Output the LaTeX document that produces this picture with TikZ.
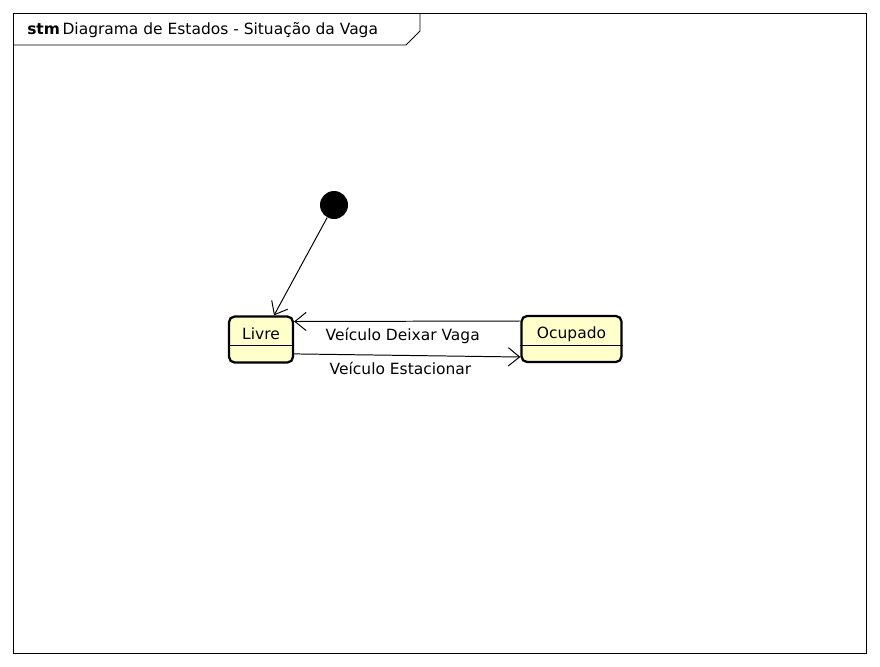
\documentclass[tikz,border=0pt]{standalone}
\usepackage{fontspec}
\setmainfont{DejaVu Sans}
\usetikzlibrary{arrows.meta}
\definecolor{stateyellow}{RGB}{255,255,204}

\begin{document}
\begin{tikzpicture}[x=0.025cm, y=-0.025cm, font=\fontsize{11}{13}\selectfont,
  state/.style={draw, line width=1.6pt, rounded corners=4pt, fill=stateyellow, minimum width=#1, minimum height=1.15cm},
  trans/.style={-{Straight Barb[length=8pt,width=13pt]}, line width=0.7pt}]
  \useasboundingbox (0,0) rectangle (880,666);
  \fill[white] (0,0) rectangle (880,666);

  % frame
  \draw[line width=0.7pt] (13,13) rectangle (866,653);
  \draw[line width=0.7pt] (13,45) -- (406,45) -- (420,31) -- (420,13);
  \node[anchor=west, inner sep=0pt] (title) at (27,30) {\textbf{stm}\,Diagrama de Estados - Situação da Vaga};

  % states
  \node[circle, fill=black, minimum size=0.7cm, inner sep=0pt] (init) at (334,205) {};
  \node[state=1.6cm] (livre) at (261,339.5) {};
  \node (livreT) at (261,334) {Livre};
  \draw[line width=0.7pt] (livre.west |- 0,345) -- (livre.east |- 0,345);
  \node[state=2.5cm] (ocupado) at (571.5,339) {};
  \node (ocupadoT) at (571.5,334) {Ocupado};
  \draw[line width=0.7pt] (ocupado.west |- 0,345) -- (ocupado.east |- 0,345);

  % transitions
  \draw[trans] (init) -- ([xshift=0.325cm]livre.north);
  \draw[trans] ([yshift=0.45cm]ocupado.west) -- ([yshift=0.45cm]livre.east) node[pos=0.52, below=1pt] {Veículo Deixar Vaga};
  \draw[trans] ([yshift=-0.36cm]livre.east) -- ([yshift=-0.45cm]ocupado.west) node[pos=0.47, below=1pt] {Veículo Estacionar};
\end{tikzpicture}
\end{document}
